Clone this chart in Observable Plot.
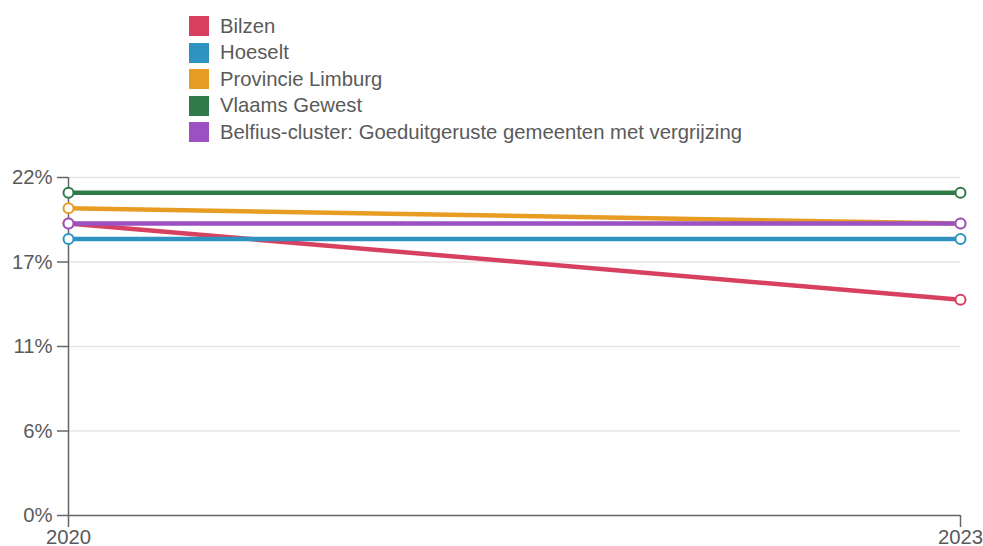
<!DOCTYPE html>
<html><head><meta charset="utf-8">
<script src="https://cdn.jsdelivr.net/npm/d3@7"></script>
<script src="https://cdn.jsdelivr.net/npm/@observablehq/plot@0.6"></script>
<style>
body{margin:0;background:#fff;font-family:"Liberation Sans",Arial,sans-serif;}
#legend{height:150px;box-sizing:border-box;padding-top:13px;padding-left:189px;}
.item{display:flex;align-items:center;height:26.5px;font-size:20.3px;color:#5a5a5a;}
.sw{width:20px;height:20px;margin-right:11px;}
</style></head>
<body>
<div id="legend"></div>
<div id="chart"></div>
<script>
const series = ["Bilzen","Hoeselt","Provincie Limburg","Vlaams Gewest","Belfius-cluster: Goeduitgeruste gemeenten met vergrijzing"];
const colors = ["#d7405f","#2e93c0","#e89c23","#2e7b49","#9b51c1"];
const years = [2020, 2023];
const values = {
  "Bilzen": [0.190, 0.1405],
  "Hoeselt": [0.180, 0.180],
  "Provincie Limburg": [0.200, 0.190],
  "Vlaams Gewest": [0.210, 0.210],
  "Belfius-cluster: Goeduitgeruste gemeenten met vergrijzing": [0.190, 0.190]
};
const yTicks = [0, 0.055, 0.11, 0.165, 0.22];

const data = series.flatMap(s => years.map((y, i) => ({series: s, year: y, value: values[s][i]})));

const leg = document.getElementById("legend");
series.forEach((s, i) => {
  const d = document.createElement("div"); d.className = "item";
  d.innerHTML = `<span class="sw" style="background:${colors[i]}"></span><span>${s}</span>`;
  leg.appendChild(d);
});

const plot = Plot.plot({
  width: 983, height: 396,
  marginTop: 27, marginBottom: 31, marginLeft: 68, marginRight: 23,
  style: {fontFamily: '"Liberation Sans", Arial, sans-serif', fontSize: "20.3px", color: "#5a5a5a", overflow: "visible"},
  x: {domain: [2020, 2023]},
  y: {domain: [0, 0.22]},
  color: {domain: series, range: colors},
  marks: [
    Plot.gridY(yTicks.slice(1), {stroke: "#e6e6e6", strokeOpacity: 1, strokeWidth: 1.5}),
    Plot.axisY(yTicks, {tickFormat: d3.format(".0%"), tickSize: 11, tickPadding: 5, stroke: "#666", strokeWidth: 1.5, fill: "#5a5a5a", label: null}),
    Plot.axisX(years, {tickFormat: "d", tickSize: 12, tickPadding: 2, stroke: "#666", strokeWidth: 1.5, fill: "#5a5a5a", label: null}),
    Plot.ruleY([0], {stroke: "#666", strokeWidth: 1.5}),
    Plot.ruleX([2020], {y1: 0, y2: 0.22, stroke: "#666", strokeWidth: 1.5}),
    ...series.map((s, i) => Plot.line(data.filter(d => d.series === s), {x: "year", y: "value", stroke: colors[i], strokeWidth: 4.5})),
    ...series.map((s, i) => Plot.dot(data.filter(d => d.series === s), {x: "year", y: "value", r: 5, fill: "white", stroke: colors[i], strokeWidth: 2}))
  ]
});
document.getElementById("chart").appendChild(plot);
</script>
</body></html>
